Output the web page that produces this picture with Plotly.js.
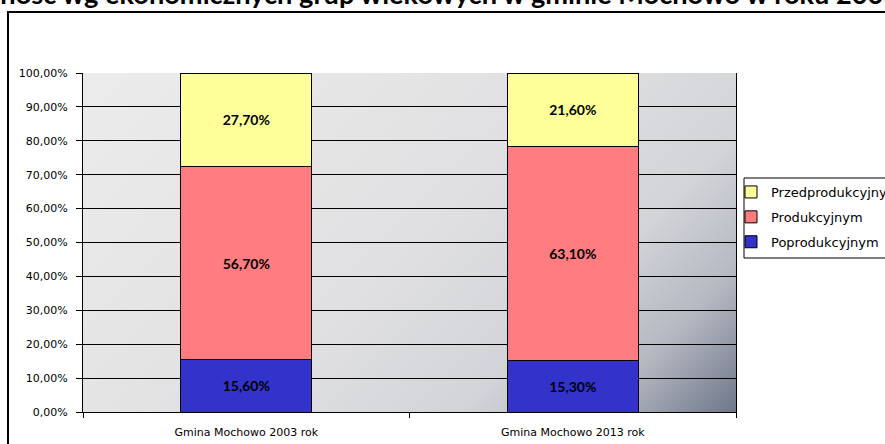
<!DOCTYPE html>
<html>
<head>
<meta charset="utf-8">
<script src="https://cdn.plot.ly/plotly-3.0.1.min.js"></script>
<style>
  html, body { margin: 0; padding: 0; background: #fff; }
  #chart { width: 885px; height: 444px; }
</style>
</head>
<body>
<div id="chart"></div>
<script>
// ---- data ----
const categories = ["Gmina Mochowo 2003 rok", "Gmina Mochowo 2013 rok"];
const seriesNames = ["Poprodukcyjnym", "Produkcyjnym", "Przedprodukcyjnym"];
const legendRanks = [3, 2, 1];
const poprodukcyjnym = [0.156, 0.153];
const produkcyjnym = [0.567, 0.631];
const przedprodukcyjnym = [0.277, 0.216];
const seriesColors = ["#3333CC", "#FF7C80", "#FFFF99"];
const titlePrefix = "Lud";
const titleVisible = "ność wg ekonomicznych grup wiekowych w gminie Mochowo w roku 200";
const titleText = "Ludność wg ekonomicznych grup wiekowych w gminie Mochowo w roku 2003 i 2013";

// ---- layout geometry (pixels) ----
const W = 885, H = 444;
const M = { l: 83, r: 149, t: 73, b: 32 };
const PW = W - M.l - M.r, PH = H - M.t - M.b;
const px2x = p => (p - M.l) / PW;
const px2y = p => 1 - (p - M.t) / PH;

// title sizing: visible part spans the page width, cut at the top
const TITLE_FONT = "Lato";
const mctx = document.createElement("canvas").getContext("2d");
mctx.font = "bold 100px " + TITLE_FONT;
const titleSize = Math.round(100 * 888 / mctx.measureText(titleVisible).width * 10) / 10;
mctx.font = "bold " + titleSize + "px " + TITLE_FONT;
const prefixW = mctx.measureText(titlePrefix).width;

// gradient plot background drawn on a canvas
function gradientURL() {
  const c = document.createElement("canvas");
  c.width = PW; c.height = PH;
  const g = c.getContext("2d");
  const d = (PW + PH) / 2;
  const lg = g.createLinearGradient(0, 0, d, d);
  lg.addColorStop(0, "#ececec");
  lg.addColorStop(0.5, "#e0e0e2");
  lg.addColorStop(0.72, "#d2d4d8");
  lg.addColorStop(0.86, "#b4b8c1");
  lg.addColorStop(1, "#6f778a");
  g.fillStyle = lg;
  g.fillRect(0, 0, PW, PH);
  return c.toDataURL("image/png");
}

const seriesValues = [poprodukcyjnym, produkcyjnym, przedprodukcyjnym];
const traces = seriesNames.map((name, i) => ({
  type: "bar",
  name: name,
  legendgroup: name,
  legendrank: legendRanks[i],
  x: categories,
  y: seriesValues[i],
  marker: { color: seriesColors[i], line: { color: "#000", width: 1 } },
  texttemplate: "%{y:.2%}",
  textposition: "inside",
  insidetextanchor: "middle",
  textangle: 0,
  constraintext: "none",
  textfont: { family: "Lato, 'Open Sans', sans-serif", size: 14, weight: "bold", color: "#000" },
  hoverinfo: "skip"
}));

const axisFont = { family: "'DejaVu Sans', sans-serif", size: 11, color: "#000" };

const layout = {
  width: W, height: H,
  margin: Object.assign({ autoexpand: false }, M),
  paper_bgcolor: "#fff",
  plot_bgcolor: "rgba(0,0,0,0)",
  separators: ", ",
  barmode: "stack",
  bargap: 0.6,
  showlegend: true,
  legend: {
    x: px2x(731), y: px2y(177), xanchor: "left", yanchor: "top",
    bgcolor: "rgba(0,0,0,0)", borderwidth: 0,
    traceorder: "grouped",
    tracegroupgap: 5,
    font: { family: "'DejaVu Sans', sans-serif", size: 13, color: "#000" },
    itemclick: false, itemdoubleclick: false
  },
  xaxis: {
    type: "category",
    tickson: "boundaries",
    ticks: "outside", ticklen: 5, tickcolor: "#000", tickwidth: 1,
    showline: true, linecolor: "#000", linewidth: 1,
    showgrid: false,
    tickfont: axisFont,
    ticklabelstandoff: 10,
    fixedrange: true
  },
  yaxis: {
    range: [0, 1],
    dtick: 0.1, tick0: 0,
    tickformat: ".2%",
    ticks: "outside", ticklen: 6, tickcolor: "#000", tickwidth: 1,
    showline: true, linecolor: "#000", linewidth: 1, mirror: true,
    showgrid: true, gridcolor: "#000", gridwidth: 1,
    zeroline: false,
    tickfont: axisFont,
    ticklabelstandoff: 6,
    fixedrange: true
  },
  images: [{
    source: gradientURL(),
    xref: "paper", yref: "paper",
    x: 0, y: 1, sizex: 1, sizey: 1,
    xanchor: "left", yanchor: "top",
    sizing: "stretch", layer: "below"
  }],
  shapes: [{
    type: "rect", xref: "paper", yref: "paper",
    x0: px2x(8), x1: px2x(W + 20),
    y0: px2y(H + 20), y1: px2y(12),
    line: { color: "#000", width: 2 },
    fillcolor: "rgba(0,0,0,0)",
    layer: "below"
  }, {
    type: "rect", xref: "paper", yref: "paper",
    x0: px2x(744), x1: px2x(W + 20),
    y0: px2y(258), y1: px2y(178),
    line: { color: "#000", width: 1 },
    fillcolor: "#fff",
    layer: "above"
  }],
  annotations: [{
    text: "<b>" + titleText + "</b>",
    xref: "paper", yref: "paper",
    x: px2x(-prefixW - 2), y: px2y(3 + 0.32 * titleSize),
    xanchor: "left", yanchor: "bottom",
    showarrow: false,
    font: { family: TITLE_FONT + ", 'Open Sans', sans-serif", size: titleSize, color: "#000" }
  }]
};

Plotly.newPlot("chart", traces, layout, { staticPlot: true, displayModeBar: false });
</script>
</body>
</html>
